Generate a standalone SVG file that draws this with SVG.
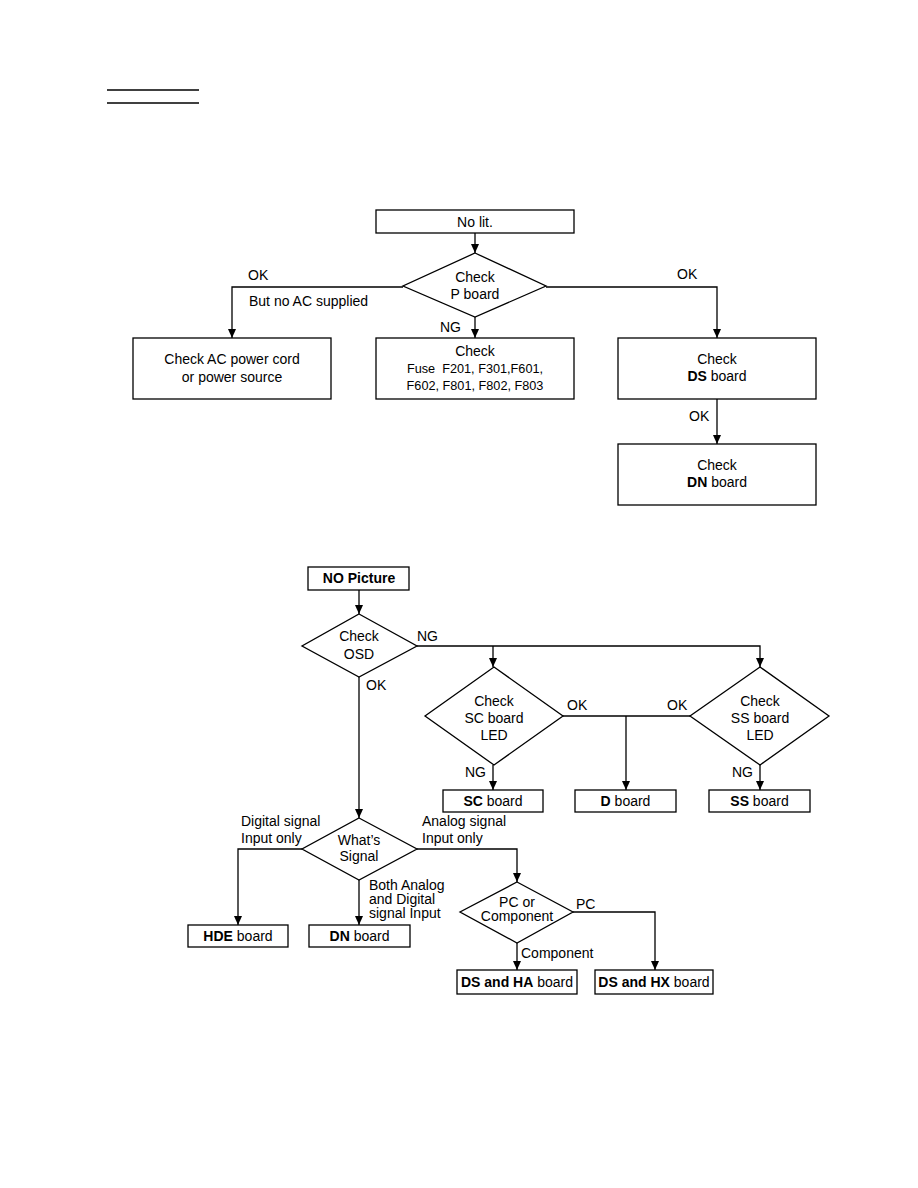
<svg xmlns="http://www.w3.org/2000/svg" width="918" height="1188" viewBox="0 0 918 1188">
<defs>
<marker id="ah" markerWidth="10" markerHeight="10" refX="9" refY="5" orient="auto" markerUnits="userSpaceOnUse">
<path d="M0,1 L9,5 L0,9 Z" fill="#000"/>
</marker>
<style>
.box{fill:#fff;stroke:#000;stroke-width:1.3}
.dia{fill:#fff;stroke:#000;stroke-width:1.3}
.ln{fill:none;stroke:#000;stroke-width:1.3}
.ar{fill:none;stroke:#000;stroke-width:1.3;marker-end:url(#ah)}
text{font-family:"Liberation Sans",Arial,sans-serif;font-size:14px;fill:#000}
.c{text-anchor:middle}
.sm{font-size:12.7px}
.b{font-weight:bold}
</style>
</defs>
<rect width="918" height="1188" fill="#fff"/>
<line x1="107" y1="90" x2="199" y2="90" class="ln"/>
<line x1="107" y1="103" x2="199" y2="103" class="ln"/>

<g id="connectors">
<path d="M475,233 V253" class="ar"/>
<path d="M403,287 H232 V338" class="ar"/>
<path d="M475,317 V338" class="ar"/>
<path d="M546,287 H717 V338" class="ar"/>
<path d="M717,399 V444" class="ar"/>

<path d="M359,590 V614" class="ar"/>
<path d="M417,646 H760 V667" class="ar"/>
<path d="M493,646 V667" class="ar"/>
<path d="M359,677 V818" class="ar"/>
<path d="M493,765 V790" class="ar"/>
<path d="M760,765 V790" class="ar"/>
<path d="M563,716 H690" class="ln"/>
<path d="M626,716 V790" class="ar"/>
<path d="M302,849 H238 V925" class="ar"/>
<path d="M359,880 V925" class="ar"/>
<path d="M417,849 H517 V882" class="ar"/>
<path d="M573,912 H655 V970" class="ar"/>
<path d="M517,943 V970" class="ar"/>
</g>

<g id="labels">
<text x="248" y="280">OK</text>
<text x="249" y="306">But no AC supplied</text>
<text x="440" y="332">NG</text>
<text x="677" y="279">OK</text>
<text x="689" y="421">OK</text>
<text x="417" y="641">NG</text>
<text x="366" y="690">OK</text>
<text x="567" y="710">OK</text>
<text x="667" y="710">OK</text>
<text x="465" y="777">NG</text>
<text x="732" y="777">NG</text>
<text x="241" y="826">Digital signal</text>
<text x="241" y="843">Input only</text>
<text x="422" y="826">Analog signal</text>
<text x="422" y="843">Input only</text>
<text x="369" y="890">Both Analog</text>
<text x="369" y="904">and Digital</text>
<text x="369" y="918">signal Input</text>
<text x="576" y="909">PC</text>
<text x="521" y="958">Component</text>
</g>

<g id="nolit"><rect x="376" y="210" width="198" height="23" class="box"/><text x="475" y="227" class="c">No lit.</text></g>
<g id="checkP"><polygon points="475,253 546,286 475,317 403,286" class="dia"/><text x="475" y="282" class="c">Check</text><text x="475" y="299" class="c">P board</text></g>
<g id="acpower"><rect x="133" y="338" width="198" height="61" class="box"/><text x="232" y="364" class="c">Check AC power cord</text><text x="232" y="382" class="c">or power source</text></g>
<g id="fuse"><rect x="376" y="338" width="198" height="61" class="box"/><text x="475" y="356" class="c">Check</text><text x="475" y="373" class="c sm">Fuse&#160; F201, F301,F601,</text><text x="475" y="390" class="c sm">F602, F801, F802, F803</text></g>
<g id="checkDS"><rect x="618" y="338" width="198" height="61" class="box"/><text x="717" y="364" class="c">Check</text><text x="717" y="381" class="c"><tspan class="b">DS</tspan> board</text></g>
<g id="checkDN"><rect x="618" y="444" width="198" height="61" class="box"/><text x="717" y="470" class="c">Check</text><text x="717" y="487" class="c"><tspan class="b">DN</tspan> board</text></g>

<g id="nopicture"><rect x="308" y="567" width="101" height="23" class="box"/><text x="359" y="583" class="c b">NO Picture</text></g>
<g id="checkOSD"><polygon points="359,614 417,646 359,677 302,646" class="dia"/><text x="359" y="641" class="c">Check</text><text x="359" y="659" class="c">OSD</text></g>
<g id="checkSC"><polygon points="494,667 563,716 494,765 425,716" class="dia"/><text x="494" y="706" class="c">Check</text><text x="494" y="723" class="c">SC board</text><text x="494" y="740" class="c">LED</text></g>
<g id="checkSS"><polygon points="760,667 829,716 760,765 690,716" class="dia"/><text x="760" y="706" class="c">Check</text><text x="760" y="723" class="c">SS board</text><text x="760" y="740" class="c">LED</text></g>
<g id="scboard"><rect x="443" y="790" width="100" height="22" class="box"/><text x="493" y="806" class="c"><tspan class="b">SC</tspan> board</text></g>
<g id="dboard"><rect x="575" y="790" width="101" height="22" class="box"/><text x="625.5" y="806" class="c"><tspan class="b">D</tspan> board</text></g>
<g id="ssboard"><rect x="709" y="790" width="101" height="22" class="box"/><text x="759.5" y="806" class="c"><tspan class="b">SS</tspan> board</text></g>
<g id="whatsignal"><polygon points="359,818 417,849 359,880 302,849" class="dia"/><text x="359" y="845" class="c">What’s</text><text x="359" y="861" class="c">Signal</text></g>
<g id="hdeboard"><rect x="188" y="925" width="100" height="22" class="box"/><text x="238" y="941" class="c"><tspan class="b">HDE</tspan> board</text></g>
<g id="dnboard"><rect x="309" y="925" width="101" height="22" class="box"/><text x="359.5" y="941" class="c"><tspan class="b">DN</tspan> board</text></g>
<g id="pccomp"><polygon points="517,882 573,912 517,943 460,912" class="dia"/><text x="517" y="907" class="c">PC or</text><text x="517" y="921" class="c">Component</text></g>
<g id="dsha"><rect x="457" y="970" width="120" height="24" class="box"/><text x="517" y="987" class="c"><tspan class="b">DS and HA</tspan> board</text></g>
<g id="dshx"><rect x="595" y="970" width="118" height="24" class="box"/><text x="654" y="987" class="c"><tspan class="b">DS and HX</tspan> board</text></g>
</svg>
